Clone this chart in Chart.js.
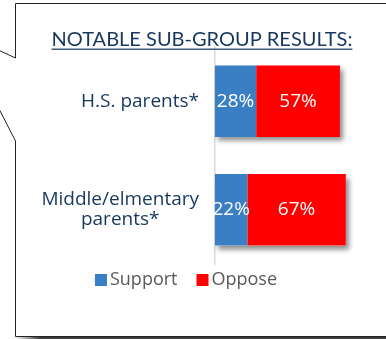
<!DOCTYPE html>
<html>
<head>
<meta charset="utf-8">
<script src="https://cdn.jsdelivr.net/npm/chart.js@4"></script>
<style>
	html, body { margin: 0; padding: 0; background: #fff; }
	#wrap { position: relative; width: 386px; height: 339px; }
</style>
</head>
<body>
<div id="wrap"><canvas id="chart" width="386" height="339"></canvas></div>
<script>
// data
const categories = [['H.S. parents*'], ['Middle/elmentary', 'parents*']];
const seriesNames = ['Support', 'Oppose'];
const support = [28, 22];
const oppose = [57, 67];
const titleText = 'NOTABLE SUB-GROUP RESULTS:';

const BLUE = '#3A7EC3';
const RED = '#FF0000';
const NAVY = '#17375E';
const TITLE_FONT = 'Lato, "Open Sans", sans-serif';
const FONT = '"Open Sans", Lato, sans-serif';

// callout box around the chart
const calloutBox = {
	id: 'calloutBox',
	beforeDraw(chart) {
		const ctx = chart.ctx;
		ctx.save();
		// bottom shadow
		const g = ctx.createLinearGradient(15, 0, 40, 0);
		g.addColorStop(0, 'rgba(60,60,60,0)');
		g.addColorStop(1, 'rgba(60,60,60,1)');
		ctx.fillStyle = g;
		ctx.fillRect(15, 337, 371, 2);
		ctx.beginPath();
		ctx.moveTo(400, 3.5);
		ctx.lineTo(15.5, 3.5);
		ctx.lineTo(15.5, 58);
		ctx.lineTo(-5, 48.5);
		ctx.moveTo(-5, 101);
		ctx.lineTo(15.5, 141);
		ctx.lineTo(15.5, 336.5);
		ctx.lineTo(400, 336.5);
		ctx.strokeStyle = '#222';
		ctx.lineWidth = 1;
		ctx.stroke();
		ctx.restore();
	}
};

// shadow under each stacked bar
const barShadow = {
	id: 'barShadow',
	beforeDatasetsDraw(chart) {
		const ctx = chart.ctx;
		const x = chart.scales.x;
		const first = chart.getDatasetMeta(0).data;
		ctx.save();
		ctx.shadowColor = 'rgba(0,0,0,0.45)';
		ctx.shadowBlur = 5;
		ctx.shadowOffsetX = 3;
		ctx.shadowOffsetY = 4;
		ctx.fillStyle = '#fff';
		first.forEach((bar, i) => {
			const total = support[i] + oppose[i];
			const left = x.getPixelForValue(0);
			const right = x.getPixelForValue(total);
			ctx.fillRect(left, bar.y - bar.height / 2, right - left, bar.height);
		});
		ctx.restore();
	}
};

// value labels, category labels, title, legend
const textLayer = {
	id: 'textLayer',
	afterDatasetsDraw(chart) {
		const ctx = chart.ctx;
		ctx.save();

		// values inside bars
		ctx.font = '19px ' + FONT;
		ctx.fillStyle = '#fff';
		ctx.textAlign = 'center';
		ctx.textBaseline = 'middle';
		chart.data.datasets.forEach((ds, d) => {
			chart.getDatasetMeta(d).data.forEach((bar, i) => {
				const p = bar.getCenterPoint();
				ctx.fillText(ds.data[i] + '%', p.x, p.y);
			});
		});

		// category labels, block right-aligned, lines centred
		const y = chart.scales.y;
		ctx.font = '19px ' + FONT;
		ctx.fillStyle = NAVY;
		categories.forEach((lines, i) => {
			const w = Math.max(...lines.map(l => ctx.measureText(l).width));
			const cx = 199 - w / 2;
			const cy = y.getPixelForValue(i);
			const lh = 20;
			lines.forEach((l, k) => {
				ctx.fillText(l, cx, cy + (k - (lines.length - 1) / 2) * lh);
			});
		});

		// title with underline
		ctx.font = '20px ' + TITLE_FONT;
		ctx.fillStyle = NAVY;
		ctx.textBaseline = 'alphabetic';
		ctx.fillText(titleText, 202, 46);
		const tw = ctx.measureText(titleText).width;
		ctx.fillStyle = '#3E5A80';
		ctx.fillRect(202 - tw / 2, 48.5, tw, 1.5);

		// legend
		ctx.font = '18px ' + FONT;
		ctx.textAlign = 'left';
		ctx.textBaseline = 'middle';
		const box = 12, gap = 3, itemGap = 19;
		const widths = seriesNames.map(n => box + gap + ctx.measureText(n).width);
		let lx = 186 - (widths[0] + widths[1] + itemGap) / 2;
		const ly = 280;
		chart.data.datasets.forEach((ds, d) => {
			ctx.fillStyle = ds.backgroundColor;
			ctx.fillRect(lx, ly - box / 2, box, box);
			ctx.fillStyle = '#595959';
			ctx.fillText(seriesNames[d], lx + box + gap, ly);
			lx += widths[d] + itemGap;
		});
		ctx.restore();
	}
};

const config = {
	type: 'bar',
	data: {
		labels: categories,
		datasets: [
			{ label: seriesNames[0], data: support, backgroundColor: BLUE },
			{ label: seriesNames[1], data: oppose, backgroundColor: RED }
		]
	},
	options: {
		indexAxis: 'y',
		responsive: false,
		animation: false,
		layout: { padding: { top: 47, bottom: 75, left: 215, right: 24 } },
		datasets: { bar: { barPercentage: 0.66, categoryPercentage: 1 } },
		plugins: {
			legend: { display: false },
			title: { display: false },
			tooltip: { enabled: false }
		},
		scales: {
			x: { stacked: true, min: 0, max: 100, display: false },
			y: {
				stacked: true,
				afterFit(scale) { scale.width = 0; },
				ticks: { display: false },
				grid: { display: false },
				border: { display: true, color: '#D9D9D9', width: 1.5 }
			}
		}
	},
	plugins: [calloutBox, barShadow, textLayer]
};

new Chart(document.getElementById('chart').getContext('2d'), config);
</script>
</body>
</html>
